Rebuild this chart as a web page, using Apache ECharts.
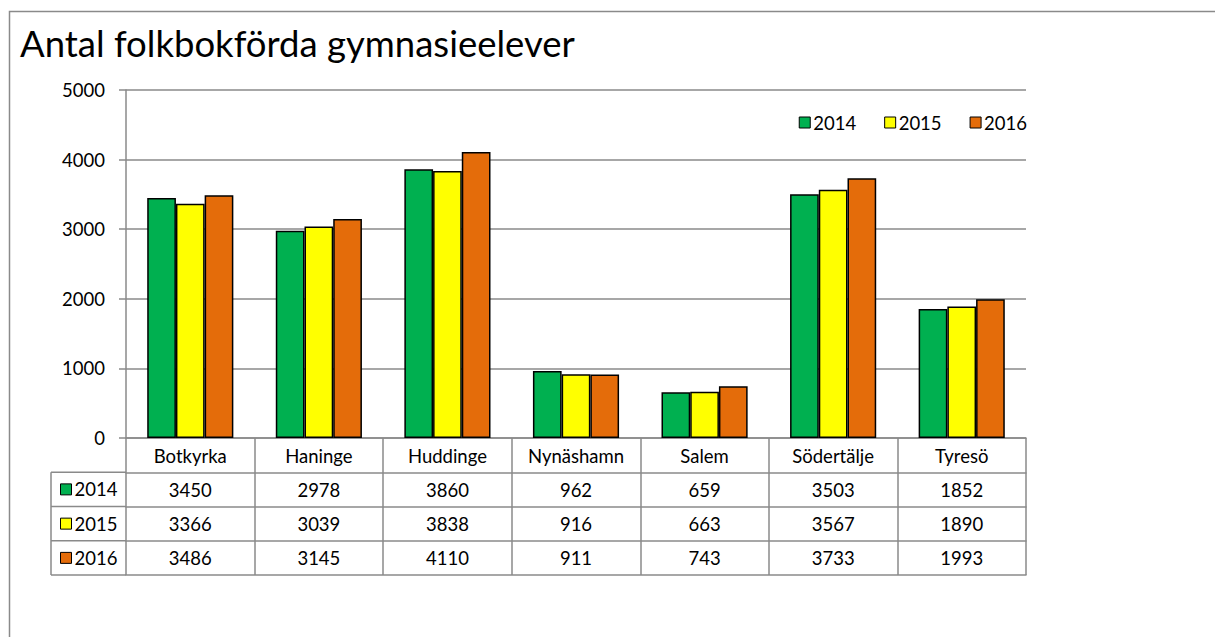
<!DOCTYPE html>
<html>
<head>
<meta charset="utf-8">
<script src="https://cdn.jsdelivr.net/npm/echarts@6/dist/echarts.min.js"></script>
<style>
html,body{margin:0;padding:0;background:#fff;}
#main{width:1215px;height:637px;}
</style>
</head>
<body>
<div id="main"></div>
<script>
var categories = ['Botkyrka', 'Haninge', 'Huddinge', 'Nynäshamn', 'Salem', 'Södertälje', 'Tyresö']
var years = ['2014', '2015', '2016']
var v2014 = [3450, 2978, 3860, 962, 659, 3503, 1852]
var v2015 = [3366, 3039, 3838, 916, 663, 3567, 1890]
var v2016 = [3486, 3145, 4110, 911, 743, 3733, 1993]
var yTicks = [0, 1000, 2000, 3000, 4000, 5000]

var colors = ['#00B050', '#FFFF00', '#E46C0A']
var values = [v2014, v2015, v2016]

// layout
var W = 1215, H = 637
var gLeft = 126, gRight = 1026, gTop = 90, gBottom = 438
var rowH = 34.25
var keyLeft = 51
var lineCol = '#8a8a8a'
var font = 'Lato, Carlito, Calibri, sans-serif'
var fs = 18.5

var chart = echarts.init(document.getElementById('main'), null, {renderer: 'svg'})

// table rows as extra x axes, one per year + bottom border
var xAxes = [{
	type: 'category',
	data: categories,
	position: 'bottom',
	axisLine: {show: true, lineStyle: {color: lineCol, width: 1.5}},
	axisTick: {show: true, length: rowH * 4, interval: 0, lineStyle: {color: lineCol, width: 1.5}},
	axisLabel: {margin: 8, fontSize: fs, color: '#000', fontFamily: font, interval: 0}
}]
for (var k = 0; k < 4; k++) {
	(function (k) {
		xAxes.push({
			type: 'category',
			data: categories,
			position: 'bottom',
			offset: rowH * (k + 1),
			axisLine: {show: true, lineStyle: {color: lineCol, width: 1.5}},
			axisTick: {show: false},
			axisLabel: {
				show: k < 3,
				margin: 8, fontSize: fs, color: '#000', fontFamily: font, interval: 0,
				formatter: function (v, i) { return k < 3 ? String(values[k][i]) : '' }
			}
		})
	})(k)
}

// outer frame + left key column of the data table
var graphics = [{
	type: 'rect',
	silent: true,
	shape: {x: 9.5, y: 11.5, width: 1400, height: 800},
	style: {fill: 'none', stroke: lineCol, lineWidth: 1.5}
}, {
	type: 'line',
	silent: true,
	shape: {x1: keyLeft, y1: gBottom + rowH, x2: keyLeft, y2: gBottom + rowH * 4},
	style: {stroke: lineCol, lineWidth: 1.5}
}]
for (var r = 1; r <= 4; r++) {
	graphics.push({
		type: 'line',
		silent: true,
		shape: {x1: keyLeft, y1: gBottom + rowH * r, x2: gLeft, y2: gBottom + rowH * r},
		style: {stroke: lineCol, lineWidth: 1.5}
	})
}

var series = years.map(function (y, i) {
	return {
		name: y,
		type: 'bar',
		data: values[i],
		barGap: '0%',
		barCategoryGap: '33%',
		itemStyle: {color: colors[i], borderColor: '#000', borderWidth: 1.5}
	}
})

var option = {
	animation: false,
	backgroundColor: '#fff',
	title: {
		text: 'Antal folkbokförda gymnasieelever',
		left: 20,
		top: 24,
		padding: 0,
		textStyle: {fontFamily: font, fontSize: 36.5, fontWeight: 'normal', color: '#000'}
	},
	legend: [{
		data: years,
		right: W - gRight - 1,
		top: 113,
		padding: 0,
		itemWidth: 11,
		itemHeight: 11,
		itemGap: 28,
		icon: 'rect',
		itemStyle: {borderColor: '#000', borderWidth: 1},
		textStyle: {fontFamily: font, fontSize: fs, color: '#000', padding: [0, 0, 0, -2]}
	}, {
		data: years,
		orient: 'vertical',
		left: keyLeft + 9,
		top: gBottom + rowH + (rowH - 20) / 2,
		padding: 0,
		itemWidth: 11,
		itemHeight: 11,
		itemGap: rowH - 20,
		icon: 'rect',
		itemStyle: {borderColor: '#000', borderWidth: 1},
		textStyle: {fontFamily: font, fontSize: fs, color: '#000', lineHeight: 20, padding: [0, 0, 0, -2]}
	}],
	grid: {left: gLeft, right: W - gRight, top: gTop, bottom: H - gBottom, containLabel: false},
	xAxis: xAxes,
	yAxis: {
		type: 'value',
		min: yTicks[0],
		max: yTicks[yTicks.length - 1],
		interval: yTicks[1] - yTicks[0],
		axisLine: {show: true, lineStyle: {color: lineCol, width: 1.5}},
		axisTick: {show: true, length: 7, lineStyle: {color: lineCol, width: 1.5}},
		axisLabel: {margin: 21, fontSize: fs, color: '#000', fontFamily: font, formatter: function (v) { return String(v) }},
		splitLine: {show: true, lineStyle: {color: lineCol, width: 1.5}}
	},
	graphic: graphics,
	series: series
}

chart.setOption(option)
</script>
</body>
</html>
